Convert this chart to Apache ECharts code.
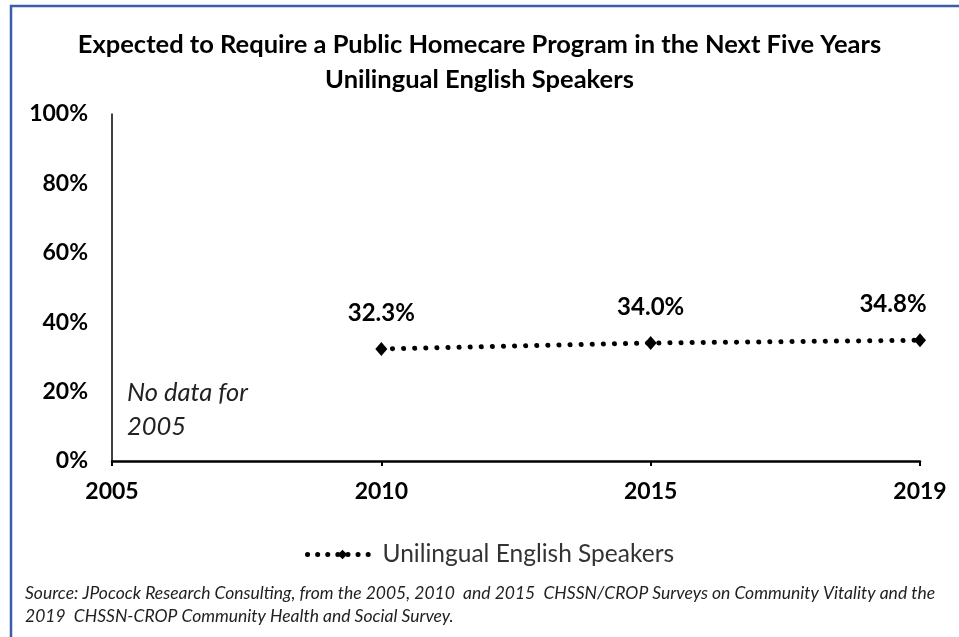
<!DOCTYPE html>
<html>
<head>
<meta charset="utf-8">
<script src="https://cdn.jsdelivr.net/npm/echarts@6/dist/echarts.min.js"></script>
<style>
html,body{margin:0;padding:0;background:#fff;}
#chart{width:959px;height:637px;}
</style>
</head>
<body>
<div id="chart"></div>
<script>
const years = ['2005', '2010', '2015', '2019'];
const values = [null, 32.3, 34.0, 34.8];
const yTicks = [0, 20, 40, 60, 80, 100];
const seriesName = 'Unilingual English Speakers';
const titleLines = ['Expected to Require a Public Homecare Program in the Next Five Years', 'Unilingual English Speakers'];
const noteLines = ['No data for', '2005'];
const sourceLines = ['Source: JPocock Research Consulting, from the 2005, 2010  and 2015  CHSSN/CROP Surveys on Community Vitality and the', '2019  CHSSN-CROP Community Health and Social Survey.'];

const FONT = 'Lato, "Liberation Sans", Arial, sans-serif';
const chart = echarts.init(document.getElementById('chart'), null, {renderer: 'canvas'});

const data = values.map((v, i) => {
  const item = {value: v};
  if (i === values.length - 1) item.label = {offset: [-27, 0]};
  return item;
});

chart.setOption({
  backgroundColor: '#fff',
  animation: false,
  title: [{
    text: titleLines.join('\n'),
    left: 'center',
    top: 22,
    textStyle: {fontFamily: FONT, fontSize: 25.5, fontWeight: 'bold', color: '#000', lineHeight: 35}
  }, {
    text: sourceLines.join('\n'),
    left: 20,
    top: 577,
    textStyle: {fontFamily: FONT, fontSize: 17.5, fontStyle: 'italic', fontWeight: 'normal', color: '#222', lineHeight: 23}
  }],
  legend: {
    data: [seriesName],
    left: 300,
    top: 537,
    itemWidth: 70,
    itemHeight: 12,
    itemGap: 10,
    textStyle: {fontFamily: FONT, fontSize: 24.5, color: '#333'},
    lineStyle: {width: 5, type: [0.1, 10], cap: 'round', color: '#000'}
  },
  grid: {left: 112, right: 39, top: 114, bottom: 176, containLabel: false},
  xAxis: {
    type: 'category',
    data: years,
    boundaryGap: false,
    axisLine: {lineStyle: {color: '#000', width: 2.5}},
    axisTick: {show: true, length: 5, lineStyle: {color: '#000', width: 2}},
    axisLabel: {fontFamily: FONT, fontSize: 23, fontWeight: 'bold', color: '#000', margin: 19},
    splitLine: {show: false}
  },
  yAxis: {
    type: 'value',
    min: yTicks[0],
    max: yTicks[yTicks.length - 1],
    interval: yTicks[1] - yTicks[0],
    axisLine: {show: true, lineStyle: {color: '#000', width: 1.5}},
    axisTick: {show: false},
    axisLabel: {fontFamily: FONT, fontSize: 23, fontWeight: 'bold', color: '#000', margin: 24, formatter: v => v + '%'},
    splitLine: {show: false}
  },
  series: [{
    name: seriesName,
    type: 'line',
    data: data,
    symbol: 'diamond',
    symbolSize: [12, 14],
    itemStyle: {color: '#000'},
    lineStyle: {color: '#000', width: 5, type: [0.1, 11], cap: 'round'},
    label: {
      show: true,
      position: 'top',
      distance: 17,
      fontFamily: FONT, fontSize: 24, fontWeight: 'bold', color: '#000',
      formatter: p => p.value.toFixed(1) + '%'
    }
  }],
  graphic: [{
    type: 'rect',
    shape: {x: 11, y: 6, width: 1000, height: 700},
    style: {fill: 'none', stroke: '#3A5FA8', lineWidth: 2.5},
    silent: true
  }, {
    type: 'text',
    left: 127,
    top: 376,
    style: {text: noteLines.join('\n'), font: 'italic 25.5px ' + FONT, fill: '#222', lineHeight: 34}
  }]
});
</script>
</body>
</html>
